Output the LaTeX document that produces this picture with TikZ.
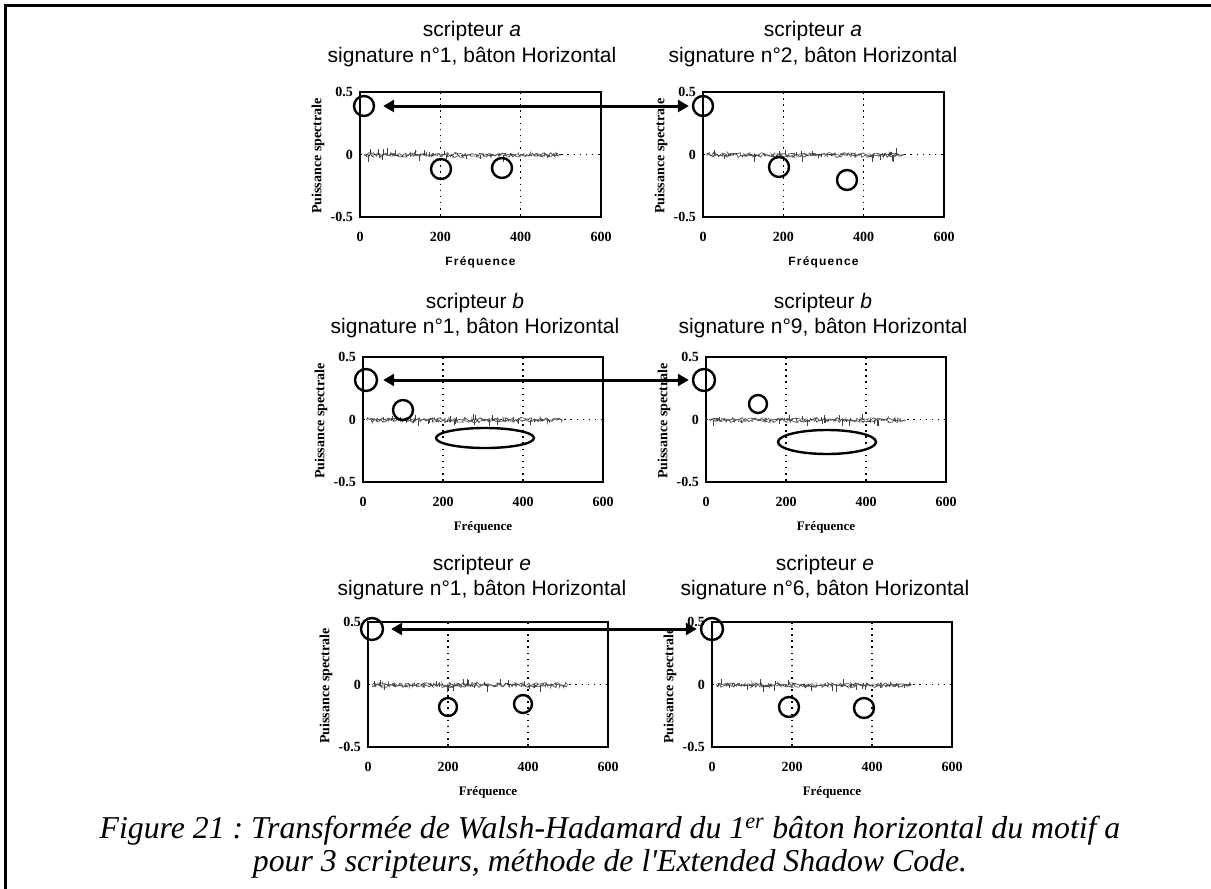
\documentclass[tikz,border=0pt]{standalone}
\usepackage{fontspec}
\setmainfont{Liberation Serif}
\setsansfont{Liberation Sans}
\newfontfamily\spsans[LetterSpace=10]{Liberation Sans}
\usetikzlibrary{arrows.meta,decorations.pathmorphing,shapes.geometric}
\frenchspacing
\tikzset{
  frm/.style={line width=2.6pt},
  gridl/.style={line width=1.6pt, dash pattern=on 1.6pt off 4.5pt},
  noise/.style={gray!55!black, line width=0.6pt, decorate, decoration={random steps, segment length=1.3pt, amplitude=2pt}},
  spike/.style={gray!50!black, line width=0.6pt},
  ring/.style={circle, draw, line width=2.4pt, inner sep=0pt},
  oval/.style={ellipse, draw, line width=2.4pt, inner sep=0pt},
  dbl/.style={line width=3pt, {Triangle[length=11pt,width=12pt]}-{Triangle[length=11pt,width=12pt]}},
  ttl/.style={font=\sffamily\fontsize{21}{24}\selectfont, inner sep=0pt},
  tklab/.style={font=\bfseries\fontsize{14}{16}\selectfont, inner sep=0pt},
  ylab/.style={font=\bfseries\fontsize{14}{16}\selectfont, rotate=90, inner sep=0pt},
  capt/.style={font=\itshape\fontsize{31.8}{35}\selectfont, inner sep=0pt, anchor=base}
}
% #1 name, #2 left, #3 top, #4 width, #5 font of x label
\newcommand\spplot[5]{%
  \coordinate (#1-tl) at (#2,#3);
  \coordinate (#1-br) at ({#2+#4},{#3+125});
  \draw[gridl] ({#2+#4/3},#3) -- ({#2+#4/3},{#3+125});
  \draw[gridl] ({#2+2*#4/3},#3) -- ({#2+2*#4/3},{#3+125});
  \draw[gridl] (#2,{#3+62.5}) -- ({#2+#4},{#3+62.5});
  \fill[white] ({#2+3},{#3+59}) rectangle ({#2+0.83*#4},{#3+66});
  \draw[noise] ({#2+4},{#3+62.5}) -- ({#2+0.83*#4},{#3+62.5});
  \draw[noise] ({#2+4},{#3+63.5}) -- ({#2+0.83*#4},{#3+63.5});
  \foreach \k in {1,...,30}{\draw[spike] ({#2+6+rnd*0.78*#4},{#3+62.5}) -- ++(0,{(rnd-0.45)*14});}
  \draw[frm] (#1-tl) rectangle (#1-br);
  \node[tklab,anchor=east] (#1-y1) at ({#2-7},#3) {0.5};
  \node[tklab,anchor=east] (#1-y2) at ({#2-7},{#3+62.5}) {0};
  \node[tklab,anchor=east] (#1-y3) at ({#2-7},{#3+125}) {-0.5};
  \foreach \v/\n in {0/a,200/b,400/c,600/d}{\node[tklab] (#1-x\n) at ({#2+\v/600*#4},{#3+145}) {\v};}
  \node[inner sep=0pt,font=#5] (#1-xl) at ({#2+#4/2},{#3+170}) {Fréquence};
  \node[ylab] (#1-yl) at ({#2-42},{#3+64}) {Puissance spectrale};
}
\begin{document}
\begin{tikzpicture}[x=1pt,y=-1pt]
\pgfmathsetseed{42}
\useasboundingbox (0,0) rectangle (1211,889);
\fill[white] (0,0) rectangle (1211,889);
\draw[line width=3pt] (5.5,889) -- (5.5,5.5) -- (1211,5.5);

% row 1
\node[ttl] (t1a) at (472,31) {scripteur \textit{a}};
\node[ttl] (t1b) at (472,57) {signature n°1, bâton Horizontal};
\node[ttl] (t2a) at (813,31) {scripteur \textit{a}};
\node[ttl] (t2b) at (813,57) {signature n°2, bâton Horizontal};
\spplot{p1}{360}{92}{241}{\spsans\bfseries\fontsize{12}{14}\selectfont}
\spplot{p2}{703}{92}{241}{\spsans\bfseries\fontsize{12}{14}\selectfont}
\node[ring, minimum size=20pt] (c1a) at (364,106) {};
\node[ring, minimum size=20pt] (c1b) at (441,169) {};
\node[ring, minimum size=20pt] (c1c) at (502,168) {};
\node[ring, minimum size=20pt] (c2a) at (703,106) {};
\node[ring, minimum size=20pt] (c2b) at (779,167) {};
\node[ring, minimum size=20pt] (c2c) at (847,180) {};
\draw[dbl, shorten <=8pt, shorten >=3pt] (c1a.east) -- (c2a.west);

% row 2
\node[ttl] (t3a) at (475,303) {scripteur \textit{b}};
\node[ttl] (t3b) at (475,328) {signature n°1, bâton Horizontal};
\node[ttl] (t4a) at (823,303) {scripteur \textit{b}};
\node[ttl] (t4b) at (823,328) {signature n°9, bâton Horizontal};
\spplot{p3}{363}{357}{240}{\bfseries\fontsize{13}{15}\selectfont}
\spplot{p4}{706}{357}{240}{\bfseries\fontsize{13}{15}\selectfont}
\node[ring, minimum size=22pt] (c3a) at (366,380) {};
\node[ring, minimum size=20pt] (c3b) at (403,410) {};
\node[oval, minimum width=98pt, minimum height=20pt] (e3) at (485,438) {};
\node[ring, minimum size=22pt] (c4a) at (704,380) {};
\node[ring, minimum size=18pt] (c4b) at (758,404) {};
\node[oval, minimum width=98pt, minimum height=24pt] (e4) at (827,442) {};
\draw[dbl, shorten <=5pt, shorten >=3pt] (c3a.east) -- (c4a.west);

% row 3
\node[ttl] (t5a) at (482,565) {scripteur \textit{e}};
\node[ttl] (t5b) at (482,590) {signature n°1, bâton Horizontal};
\node[ttl] (t6a) at (825,565) {scripteur \textit{e}};
\node[ttl] (t6b) at (825,590) {signature n°6, bâton Horizontal};
\spplot{p5}{368}{622}{240}{\bfseries\fontsize{13}{15}\selectfont}
\spplot{p6}{712}{622}{240}{\bfseries\fontsize{13}{15}\selectfont}
\node[ring, minimum size=22pt] (c5a) at (372,629) {};
\node[ring, minimum size=18pt] (c5b) at (448,707) {};
\node[ring, minimum size=18pt] (c5c) at (523,704) {};
\node[ring, minimum size=22pt] (c6a) at (712,629) {};
\node[ring, minimum size=20pt] (c6b) at (789,707) {};
\node[ring, minimum size=20pt] (c6c) at (864,708) {};
\draw[dbl, shorten <=7pt, shorten >=3pt] (c5a.east) -- (c6a.west);

% caption
\node[capt] (cap1) at (610,838) {Figure 21 : Transformée de Walsh-Hadamard du 1\textsuperscript{er} bâton horizontal du motif a};
\node[capt] (cap2) at (610,871) {pour 3 scripteurs, méthode de l\textquotesingle Extended Shadow Code.};
\end{tikzpicture}
\end{document}
